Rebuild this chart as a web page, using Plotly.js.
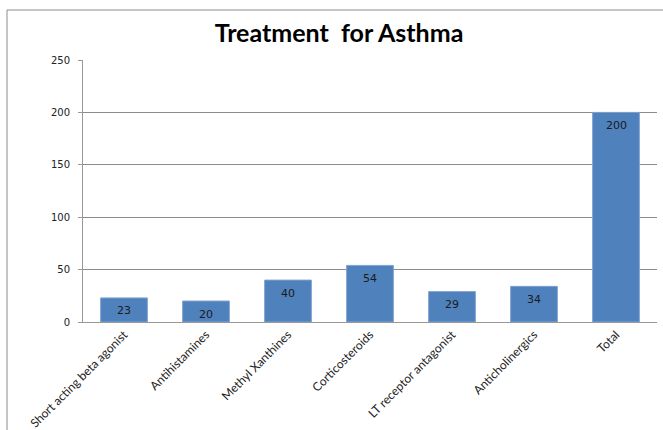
<!DOCTYPE html>
<html>
<head>
<meta charset="utf-8">
<script src="https://cdn.plot.ly/plotly-3.0.1.min.js"></script>
<style>html,body{margin:0;padding:0;background:#fff;}#chart{width:663px;height:430px;}</style>
</head>
<body>
<div id="chart"></div>
<script>
const categories = ["Short acting beta agonist", "Antihistamines", "Methyl Xanthines", "Corticosteroids", "LT receptor antagonist", "Anticholinergics", "Total"];
const values = [23, 20, 40, 54, 29, 34, 200];
const valueLabels = ["23", "20", "40", "54", "29", "34", "200"];
const yTicks = [0, 50, 100, 150, 200, 250];

const W = 663, H = 430;
const L = 83, R = 6, T = 60, B = 108;
const pw = W - L - R, ph = H - T - B;
const px = v => (v - L) / pw;
const py = v => (H - B - v) / ph;

const trace = {
  type: 'bar',
  x: categories,
  y: values,
  marker: {color: '#4F81BD', line: {color: '#7FA3D0', width: 1}},
  hoverinfo: 'none'
};

const labelAnnotations = categories.map((c, i) => ({
  x: c, y: values[i], xref: 'x', yref: 'y',
  text: valueLabels[i], showarrow: false,
  yanchor: 'middle', yshift: -13,
  font: {family: 'Verdana, DejaVu Sans, sans-serif', size: 11, color: '#1a1a1a'}
}));

const layout = {
  width: W, height: H,
  margin: {l: L, r: R, t: T, b: B},
  paper_bgcolor: '#ffffff',
  plot_bgcolor: '#ffffff',
  showlegend: false,
  bargap: 0.43,
  title: {
    text: '<b>Treatment  for Asthma</b>',
    font: {family: 'Lato, Calibri, sans-serif', size: 25, color: '#000'},
    xref: 'container', x: 339 / W, xanchor: 'center',
    yref: 'container', y: 1 - 33 / H, yanchor: 'middle'
  },
  xaxis: {
    type: 'category',
    tickangle: -45,
    tickfont: {family: 'Lato, Calibri, sans-serif', size: 12, color: '#222'},
    showline: true, linecolor: '#999', linewidth: 1,
    ticks: '', showgrid: false, zeroline: false
  },
  yaxis: {
    range: [0, 250],
    tickvals: yTicks,
    ticktext: yTicks.map(String),
    tickfont: {family: 'Verdana, DejaVu Sans, sans-serif', size: 10, color: '#222'},
    showline: true, linecolor: '#999', linewidth: 1,
    ticks: 'outside', ticklen: 4, tickcolor: '#999',
    ticklabelstandoff: 6,
    showgrid: true, gridcolor: '#8c8c8c', gridwidth: 1,
    zeroline: false
  },
  annotations: labelAnnotations,
  shapes: [{
    type: 'path', xref: 'paper', yref: 'paper',
    path: `M ${px(7)} ${py(432)} L ${px(7)} ${py(10)} L ${px(665)} ${py(10)}`,
    line: {color: '#8c8c8c', width: 1}
  }]
};

Plotly.newPlot('chart', [trace], layout, {displayModeBar: false, staticPlot: true});
</script>
</body>
</html>
